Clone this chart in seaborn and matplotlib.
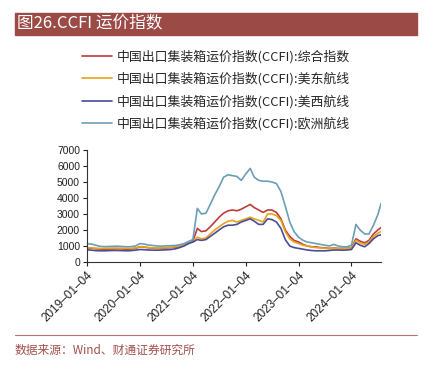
import pandas as pd
import numpy as np
import seaborn as sns
import matplotlib.dates as mdates
from matplotlib import pyplot as plt

# Monthly readings of the CCFI series, last point = 2024-07-26
dates = list(pd.date_range('2019-01-04', periods=67, freq=pd.DateOffset(months=1))) + [pd.Timestamp('2024-07-26')]

ccfi_all = [880, 860, 830, 810, 800, 810, 820, 830, 820, 800, 810, 850,
            950, 930, 890, 870, 850, 860, 880, 900, 920, 980, 1050, 1150,
            1300, 2100, 1900, 1950, 2200, 2500, 2800, 3050, 3200, 3250, 3200, 3300,
            3450, 3600, 3400, 3250, 3100, 3250, 3250, 3100, 2700, 2000, 1600, 1350,
            1250, 1100, 1000, 950, 950, 900, 880, 850, 870, 850, 850, 850,
            900, 1450, 1300, 1200, 1350, 1750, 2000, 2150]
ccfi_east = [900, 880, 860, 850, 850, 860, 870, 870, 860, 850, 850, 880,
             960, 940, 900, 880, 870, 880, 900, 920, 950, 1000, 1080, 1200,
             1250, 1550, 1450, 1500, 1750, 2000, 2200, 2400, 2550, 2600, 2500, 2600,
             2700, 2800, 2700, 2600, 2500, 3000, 3000, 2900, 2600, 1900, 1450, 1250,
             1150, 1050, 1000, 950, 900, 880, 860, 850, 850, 840, 850, 860,
             880, 1350, 1200, 1100, 1250, 1600, 1800, 1900]
ccfi_west = [760, 740, 710, 700, 700, 710, 720, 720, 710, 700, 710, 740,
             780, 770, 750, 740, 740, 750, 760, 780, 820, 900, 1000, 1150,
             1250, 1400, 1350, 1400, 1600, 1800, 2000, 2200, 2300, 2300, 2350, 2500,
             2600, 2700, 2550, 2350, 2350, 2700, 2650, 2500, 2100, 1400, 1000, 900,
             850, 800, 750, 720, 700, 700, 700, 720, 750, 750, 740, 750,
             780, 1200, 1050, 950, 1150, 1450, 1650, 1700]
ccfi_eu = [1140, 1120, 1050, 980, 960, 970, 980, 990, 970, 950, 960, 1000,
           1150, 1120, 1060, 1030, 1000, 990, 1010, 1020, 1030, 1080, 1150, 1280,
           1400, 3350, 3000, 3050, 3600, 4200, 4700, 5300, 5450, 5400, 5350, 5100,
           5500, 5850, 5300, 5100, 5050, 5050, 5000, 4900, 4400, 3500, 2500, 1900,
           1550, 1350, 1250, 1200, 1150, 1100, 1050, 1000, 1100, 1000, 950, 950,
           1050, 2350, 2000, 1750, 1750, 2300, 2950, 3650]

names = ['中国出口集装箱运价指数(CCFI):综合指数',
         '中国出口集装箱运价指数(CCFI):美东航线',
         '中国出口集装箱运价指数(CCFI):美西航线',
         '中国出口集装箱运价指数(CCFI):欧洲航线']
colors = ['#BE3B3B', '#E8A317', '#4A4C9C', '#6A9FB5']

df = pd.concat([pd.DataFrame({'date': dates, 'value': v, 'series': n})
                for n, v in zip(names, [ccfi_all, ccfi_east, ccfi_west, ccfi_eu])])

sns.set_style('ticks')
plt.rcParams['font.family'] = ['Liberation Sans', 'Noto Sans CJK SC', 'DejaVu Sans']

fig = plt.figure(figsize=(4.34, 3.65), dpi=100)
ax = fig.add_axes([87 / 434, 1 - 262 / 365, 294 / 434, 112 / 365])

sns.lineplot(data=df, x='date', y='value', hue='series', hue_order=names,
             palette=dict(zip(names, colors)), linewidth=1.2, ax=ax, legend=False)

ax.set_xlim(dates[0], dates[-1])
ax.set_ylim(0, 7000)
ax.set_yticks(range(0, 7001, 1000))
ax.set_xticks([pd.Timestamp(f'{y}-01-04') for y in range(2019, 2025)])
ax.xaxis.set_major_formatter(mdates.DateFormatter('%Y\u2013%m\u2013%d'))
ax.set_xlabel('')
ax.set_ylabel('')
ax.tick_params(length=3, width=0.8, colors='#222222', pad=2)
ax.tick_params(axis='y', labelsize=7.5)
ax.tick_params(axis='x', labelsize=8.5)
for lab in ax.get_xticklabels():
    lab.set_rotation(45)
    lab.set_ha('right')
    lab.set_rotation_mode('anchor')
sns.despine(ax=ax)
for s in ['left', 'bottom']:
    ax.spines[s].set_color('#333333')
    ax.spines[s].set_linewidth(0.8)

# легенда
handles = [plt.Line2D([], [], color=c, linewidth=1.2) for c in colors]
fig.legend(handles, names, loc='upper left', bbox_to_anchor=(70 / 434, 1 - 38 / 365),
           frameon=False, handlelength=2.35, handletextpad=0.4, labelspacing=0.68,
           prop={'family': ['Noto Sans CJK SC'], 'size': 9.3})

# title bar
fig.patches.append(plt.Rectangle((15 / 434, 1 - 35 / 365), 402 / 434, 22 / 365,
                                 transform=fig.transFigure, color='#9B4A45', zorder=0))
fig.text(17 / 434, 1 - 24 / 365, '图26.CCFI 运价指数', color='white', fontsize=12,
         va='center', ha='left', family=['Noto Sans CJK SC'])

# footer
fig.lines.append(plt.Line2D([15 / 434, 417 / 434], [1 - 335 / 365, 1 - 335 / 365],
                            transform=fig.transFigure, color='#C07070', linewidth=0.8))
fig.text(15 / 434, 1 - 350 / 365, '数据来源：Wind、财通证券研究所', color='#A0504D',
         fontsize=8.5, va='center', ha='left', family=['Noto Sans CJK SC'])

fig.savefig('out.png', dpi=100)
